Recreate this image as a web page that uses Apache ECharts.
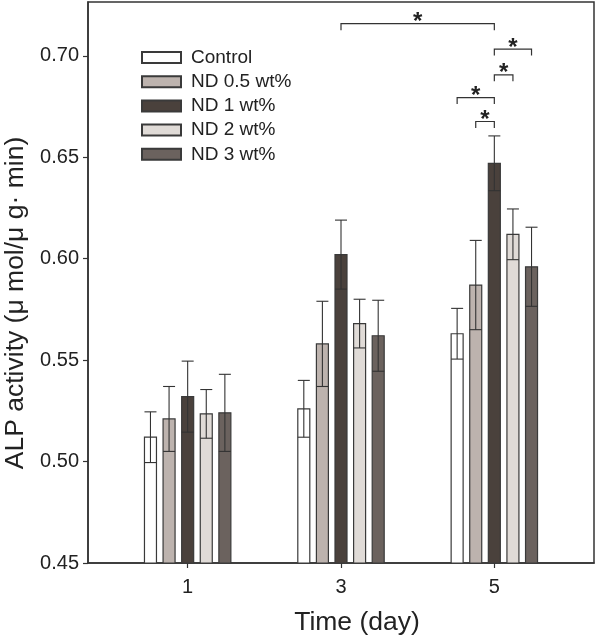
<!DOCTYPE html>
<html>
<head>
<meta charset="utf-8">
<script src="https://cdn.jsdelivr.net/npm/echarts@6/dist/echarts.min.js"></script>
<style>html,body{margin:0;padding:0;background:#fff;}#c{width:597px;height:640px;}</style>
</head>
<body>
<div id="c"></div>
<script>
// ---- data ----
const days = [1, 3, 5];
const seriesNames = ['Control', 'ND 0.5 wt%', 'ND 1 wt%', 'ND 2 wt%', 'ND 3 wt%'];
const controlMean = [0.512, 0.526, 0.563];
const controlErr  = [0.0125, 0.014, 0.0125];
const nd05Mean = [0.521, 0.558, 0.587];
const nd05Err  = [0.016, 0.021, 0.022];
const nd1Mean = [0.532, 0.602, 0.647];
const nd1Err  = [0.0175, 0.017, 0.0135];
const nd2Mean = [0.5235, 0.568, 0.612];
const nd2Err  = [0.012, 0.012, 0.0125];
const nd3Mean = [0.524, 0.562, 0.596];
const nd3Err  = [0.019, 0.0175, 0.0195];
const yTicks = [0.45, 0.50, 0.55, 0.60, 0.65, 0.70];
// significance brackets: from (day, series) to (day, series) at level
const sigFromDay    = [3, 5, 5, 5, 5];
const sigFromSeries = [2, 2, 2, 0, 1];
const sigToDay      = [5, 5, 5, 5, 5];
const sigToSeries   = [2, 4, 3, 2, 2];
const sigLevel      = [0.7158, 0.7033, 0.6906, 0.6794, 0.6676];
const sigLabel      = ['*', '*', '*', '*', '*'];

// ---- styles ----
const fills = ['#ffffff', '#bdb3ae', '#4a413c', '#e0dbd7', '#6b625e'];
const edge = '#3a3a3a';
const FONT = 'Liberation Sans, Arial, sans-serif';
const PITCH = 0.2426;   // x units between bars in a group
const BARW = 0.1565;    // bar width in x units
const Y0 = 0.45;

const means = [controlMean, nd05Mean, nd1Mean, nd2Mean, nd3Mean];
const errs = [controlErr, nd05Err, nd1Err, nd2Err, nd3Err];

function barSeries(k) {
  return {
    type: 'custom',
    name: seriesNames[k],
    itemStyle: { color: fills[k], borderColor: edge, borderWidth: 1.2 },
    data: days.map((d, i) => [d, means[k][i], errs[k][i]]),
    renderItem: function (params, api) {
      const x = api.value(0) + (k - 2) * PITCH;
      const m = api.value(1), e = api.value(2);
      const left = api.coord([x - BARW / 2, m]);
      const right = api.coord([x + BARW / 2, Y0]);
      const top = api.coord([x, m + e]);
      const bot = api.coord([x, m - e]);
      const cx = api.coord([x, m])[0];
      const hw = (right[0] - left[0]) / 2;
      const ls = { stroke: '#333', lineWidth: 1.1, fill: null };
      return {
        type: 'group',
        children: [
          { type: 'rect', shape: { x: left[0], y: left[1], width: right[0] - left[0], height: right[1] - left[1] },
            style: { fill: fills[k], stroke: edge, lineWidth: 1.2 } },
          { type: 'line', shape: { x1: cx, y1: top[1], x2: cx, y2: bot[1] }, style: ls },
          { type: 'line', shape: { x1: cx - hw, y1: top[1], x2: cx + hw, y2: top[1] }, style: ls },
          { type: 'line', shape: { x1: cx - hw, y1: bot[1], x2: cx + hw, y2: bot[1] }, style: ls }
        ]
      };
    }
  };
}

const sigSeries = {
  type: 'custom',
  name: 'sig',
  silent: true,
  data: sigLevel.map((lv, i) => [sigFromDay[i] + (sigFromSeries[i] - 2) * PITCH, sigToDay[i] + (sigToSeries[i] - 2) * PITCH, lv]),
  renderItem: function (params, api) {
    const a = api.coord([api.value(0), api.value(2)]);
    const b = api.coord([api.value(1), api.value(2)]);
    const leg = 6.5;
    return {
      type: 'group',
      children: [
        { type: 'polyline', shape: { points: [[a[0], a[1] + leg], [a[0], a[1]], [b[0], b[1]], [b[0], b[1] + leg]] },
          style: { stroke: '#333', lineWidth: 1.2, fill: null } },
        { type: 'text', style: { text: sigLabel[params.dataIndex], x: (a[0] + b[0]) / 2, y: a[1] - 1,
          align: 'center', verticalAlign: 'middle', font: 'bold 24px ' + FONT, fill: '#222' } }
      ]
    };
  }
};

const chart = echarts.init(document.getElementById('c'), null, { renderer: 'canvas' });
chart.setOption({
  animation: false,
  backgroundColor: '#fff',
  grid: { left: 88, right: 3, top: 2, bottom: 77, containLabel: false, outerBoundsMode: 'none',
    show: true, borderColor: '#333', borderWidth: 1.5 },
  legend: {
    data: seriesNames,
    orient: 'vertical',
    left: 141, top: 48,
    padding: 0,
    icon: 'rect',
    itemWidth: 39, itemHeight: 11,
    itemGap: 5.2,
    textStyle: { fontFamily: FONT, fontSize: 19, color: '#222', padding: [0, 0, 0, 5] }
  },
  xAxis: {
    type: 'value', min: -0.3, max: 6.3,
    splitLine: { show: false },
    axisLine: { onZero: false, lineStyle: { color: '#333', width: 1.5 } },
    axisTick: { customValues: days, length: 5, lineStyle: { color: '#333', width: 1.2 } },
    axisLabel: { customValues: days, margin: 14, fontFamily: FONT, fontSize: 20, color: '#222' }
  },
  yAxis: {
    type: 'value', min: 0.45, max: 0.7265, interval: 0.05,
    splitLine: { show: false },
    axisLine: { show: true, onZero: false, lineStyle: { color: '#333', width: 1.5 } },
    axisTick: { show: true, length: 5, lineStyle: { color: '#333', width: 1.2 } },
    axisLabel: { showMaxLabel: false, margin: 9, fontFamily: FONT, fontSize: 20, color: '#222',
      formatter: v => v.toFixed(2) }
  },
  graphic: [
    { type: 'text', x: 16, y: 303, rotation: Math.PI / 2,
      style: { text: 'ALP activity (μ mol/μ g· min)', align: 'center', verticalAlign: 'middle', font: '26.5px ' + FONT, fill: '#222' } },
    { type: 'text', x: 357, y: 623,
      style: { text: 'Time (day)', align: 'center', verticalAlign: 'middle', font: '26.5px ' + FONT, fill: '#222' } }
  ],
  series: [0, 1, 2, 3, 4].map(barSeries).concat([sigSeries])
});
</script>
</body>
</html>
